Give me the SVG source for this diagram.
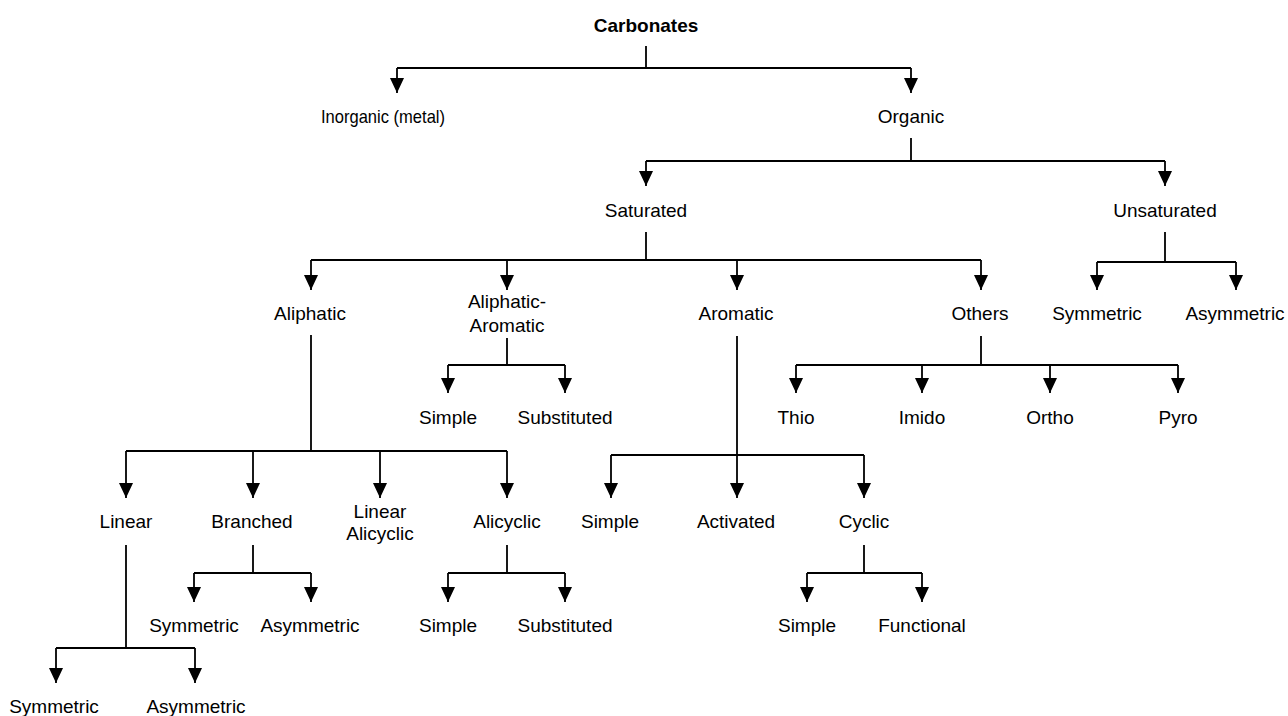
<svg xmlns="http://www.w3.org/2000/svg" width="1288" height="716" viewBox="0 0 1288 716">
<defs>
<marker id="arr" viewBox="0 0 15 14" refX="15" refY="7" markerWidth="15" markerHeight="14" orient="auto" markerUnits="userSpaceOnUse">
<path d="M0,0 L15,7 L0,14 z" fill="#000"/>
</marker>
<style>
text{font-family:"Liberation Sans",Arial,sans-serif;font-size:19px;fill:#000;text-anchor:middle}
.b{font-weight:bold}
.s{fill:none;stroke:#000;stroke-width:1.8}
.a{fill:none;stroke:#000;stroke-width:1.8;marker-end:url(#arr)}
</style>
</defs>
<rect width="1288" height="716" fill="#fff"/>
<g id="connectors">
<path class="s" d="M646,46V68M397,68H911"/>
<path class="a" d="M397,68V93"/><path class="a" d="M911,68V93"/>
<path class="s" d="M911,138V161M646,161H1165"/>
<path class="a" d="M646,161V186"/><path class="a" d="M1165,161V186"/>
<path class="s" d="M646,232V260M311,260H981"/>
<path class="a" d="M311,260V290"/><path class="a" d="M507,260V290"/><path class="a" d="M737,260V290"/><path class="a" d="M981,260V290"/>
<path class="s" d="M1165,232V262M1097,262H1236"/>
<path class="a" d="M1097,262V290"/><path class="a" d="M1236,262V290"/>
<path class="s" d="M311,335V451M126,451H507"/>
<path class="a" d="M126,451V498"/><path class="a" d="M253,451V498"/><path class="a" d="M380,451V498"/><path class="a" d="M507,451V498"/>
<path class="s" d="M507,338V365M448,365H565"/>
<path class="a" d="M448,365V393"/><path class="a" d="M565,365V393"/>
<path class="s" d="M737,336V455M611,455H864"/>
<path class="a" d="M611,455V498"/><path class="a" d="M737,455V498"/><path class="a" d="M864,455V498"/>
<path class="s" d="M981,336V365M796,365H1178"/>
<path class="a" d="M796,365V393"/><path class="a" d="M922,365V393"/><path class="a" d="M1050,365V393"/><path class="a" d="M1178,365V393"/>
<path class="s" d="M253,545V573M194,573H311"/>
<path class="a" d="M194,573V602"/><path class="a" d="M311,573V602"/>
<path class="s" d="M507,545V573M448,573H565"/>
<path class="a" d="M448,573V602"/><path class="a" d="M565,573V602"/>
<path class="s" d="M864,545V573M807,573H922"/>
<path class="a" d="M807,573V602"/><path class="a" d="M922,573V602"/>
<path class="s" d="M126,545V648M56,648H195"/>
<path class="a" d="M56,648V683"/><path class="a" d="M195,648V683"/>
</g>
<g id="n-carbonates"><text class="b" x="646" y="32">Carbonates</text></g>
<g id="n-inorganic"><text x="383" y="123" textLength="124" lengthAdjust="spacingAndGlyphs">Inorganic (metal)</text></g>
<g id="n-organic"><text x="911" y="123">Organic</text></g>
<g id="n-saturated"><text x="646" y="217">Saturated</text></g>
<g id="n-unsaturated"><text x="1165" y="217">Unsaturated</text></g>
<g id="n-aliphatic"><text x="310" y="320">Aliphatic</text></g>
<g id="n-aliph-arom"><text x="507" y="308">Aliphatic-</text><text x="507" y="332">Aromatic</text></g>
<g id="n-aromatic"><text x="736" y="320">Aromatic</text></g>
<g id="n-others"><text x="980" y="320">Others</text></g>
<g id="n-unsat-sym"><text x="1097" y="320">Symmetric</text></g>
<g id="n-unsat-asym"><text x="1235" y="320">Asymmetric</text></g>
<g id="n-aa-simple"><text x="448" y="424">Simple</text></g>
<g id="n-aa-subst"><text x="565" y="424">Substituted</text></g>
<g id="n-thio"><text x="796" y="424">Thio</text></g>
<g id="n-imido"><text x="922" y="424">Imido</text></g>
<g id="n-ortho"><text x="1050" y="424">Ortho</text></g>
<g id="n-pyro"><text x="1178" y="424">Pyro</text></g>
<g id="n-linear"><text x="126" y="528">Linear</text></g>
<g id="n-branched"><text x="252" y="528">Branched</text></g>
<g id="n-lin-alicyclic"><text x="380" y="518">Linear</text><text x="380" y="540">Alicyclic</text></g>
<g id="n-alicyclic"><text x="507" y="528">Alicyclic</text></g>
<g id="n-ar-simple"><text x="610" y="528">Simple</text></g>
<g id="n-activated"><text x="736" y="528">Activated</text></g>
<g id="n-cyclic"><text x="864" y="528">Cyclic</text></g>
<g id="n-br-sym"><text x="194" y="632">Symmetric</text></g>
<g id="n-br-asym"><text x="310" y="632">Asymmetric</text></g>
<g id="n-al-simple"><text x="448" y="632">Simple</text></g>
<g id="n-al-subst"><text x="565" y="632">Substituted</text></g>
<g id="n-cy-simple"><text x="807" y="632">Simple</text></g>
<g id="n-functional"><text x="922" y="632">Functional</text></g>
<g id="n-lin-sym"><text x="54" y="713">Symmetric</text></g>
<g id="n-lin-asym"><text x="196" y="713">Asymmetric</text></g>
</svg>
